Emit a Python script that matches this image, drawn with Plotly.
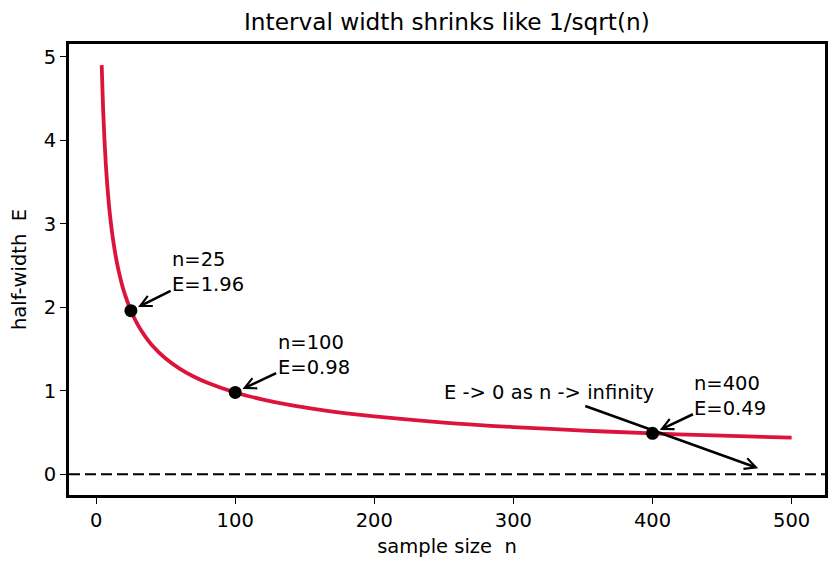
import plotly.graph_objects as go

# Curve values (half-width E vs sample size n)
n_vals = [4, 5, 6, 7, 8, 9, 10, 12, 14, 16, 18, 20, 25, 30, 35, 40, 50, 60, 70, 80,
          100, 120, 140, 160, 180, 200, 250, 300, 350, 400, 450, 500]
e_vals = [4.90, 4.383, 4.001, 3.704, 3.465, 3.267, 3.099, 2.829, 2.619, 2.450, 2.310, 2.191,
          1.960, 1.789, 1.657, 1.549, 1.386, 1.265, 1.171, 1.096,
          0.980, 0.895, 0.828, 0.775, 0.730, 0.693, 0.620, 0.566, 0.524, 0.490, 0.462, 0.438]

# Highlighted points
pt_n = [25, 100, 400]
pt_e = [1.96, 0.98, 0.49]
pt_labels = ["n=25<br>E=1.96", "n=100<br>E=0.98", "n=400<br>E=0.49"]
pt_text_n = [80.5, 156.4, 456.0]
pt_text_e = [2.42, 1.423, 0.932]

x_ticks = [0, 100, 200, 300, 400, 500]
y_ticks = [0, 1, 2, 3, 4, 5]

FONT = "DejaVu Sans"
FS = 19.5

fig = go.Figure()
fig.add_trace(go.Scatter(x=n_vals, y=e_vals, mode="lines", line=dict(color="#DC143C", width=3.8, shape="spline"),
                         showlegend=False, hoverinfo="skip"))
fig.add_trace(go.Scatter(x=pt_n, y=pt_e, mode="markers", marker=dict(color="black", size=13),
                         showlegend=False, hoverinfo="skip"))

fig.add_shape(type="line", xref="paper", yref="y", x0=0, x1=1, y0=0, y1=0,
              line=dict(color="black", width=2, dash="11px,5px"))

for xn, ye, lab, tx, ty in zip(pt_n, pt_e, pt_labels, pt_text_n, pt_text_e):
    fig.add_annotation(x=xn, y=ye, ax=tx, ay=ty, axref="x", ayref="y", xref="x", yref="y",
                       text=lab, align="left", showarrow=True, arrowhead=5, arrowsize=0.85,
                       arrowwidth=2.6, arrowcolor="black", standoff=8,
                       font=dict(family=FONT, size=FS, color="black"))

fig.add_annotation(x=476, y=0.072, ax=325.7, ay=0.974, axref="x", ayref="y", xref="x", yref="y",
                   text="E -> 0 as n -> infinity", showarrow=True, arrowhead=5, arrowsize=0.85,
                   arrowwidth=2.6, arrowcolor="black", standoff=0,
                   font=dict(family=FONT, size=FS, color="black"))

fig.update_layout(
    width=840, height=569,
    margin=dict(l=69, r=15, t=44, b=74),
    paper_bgcolor="white", plot_bgcolor="white",
    font=dict(family=FONT, size=FS, color="black"),
    title=dict(text="Interval width shrinks like 1/sqrt(n)", x=0.532, xanchor="center",
               y=1 - 22 / 569, yanchor="middle", yref="container",
               font=dict(family=FONT, size=23.2, color="black")),
)
fig.update_xaxes(range=[-19.5, 524], tickvals=x_ticks, ticks="outside", ticklen=6, tickwidth=1.4,
                 tickcolor="black", showgrid=False, zeroline=False, showline=True, linecolor="black",
                 linewidth=2.8, mirror=True, tickfont=dict(size=FS),
                 title=dict(text="sample size\u00a0\u00a0n", standoff=9, font=dict(size=FS)))
fig.update_yaxes(range=[-0.248, 5.153], tickvals=y_ticks, ticks="outside", ticklen=6, tickwidth=1.4,
                 tickcolor="black", showgrid=False, zeroline=False, showline=True, linecolor="black",
                 linewidth=2.8, mirror=True, tickfont=dict(size=FS),
                 title=dict(text="half-width\u00a0\u00a0E", standoff=12, font=dict(size=FS)))

fig.write_html("out.html")
